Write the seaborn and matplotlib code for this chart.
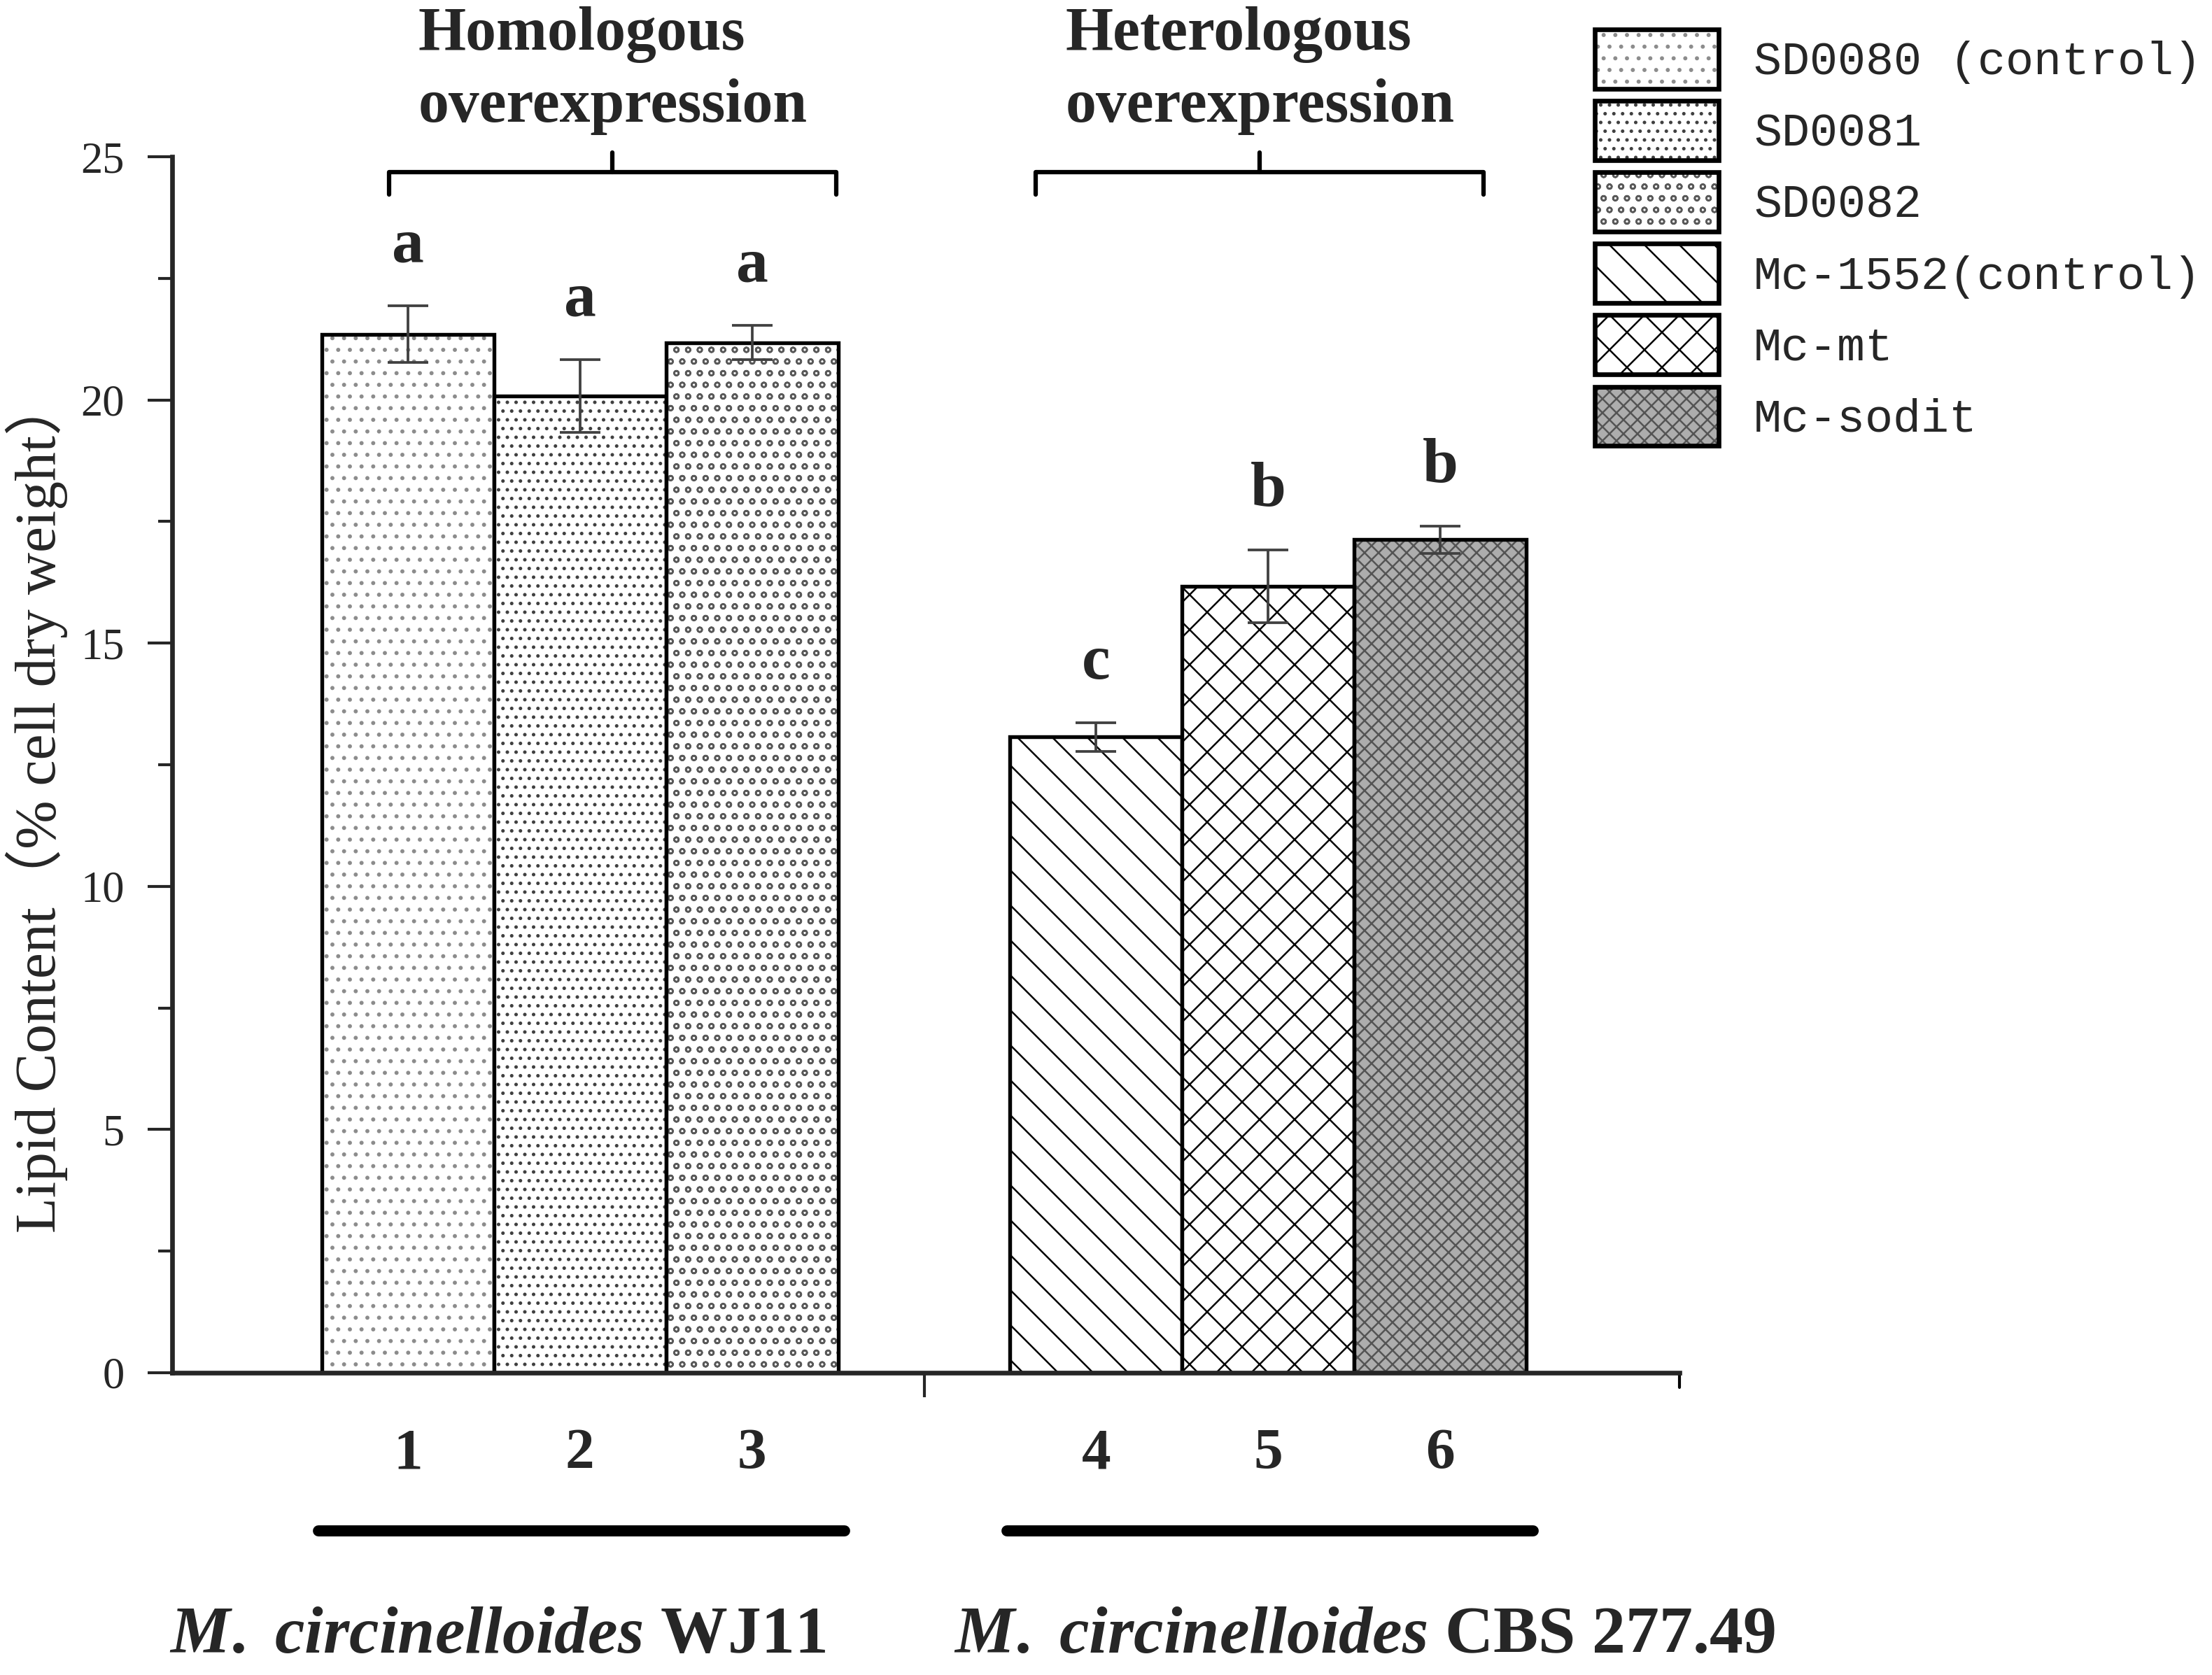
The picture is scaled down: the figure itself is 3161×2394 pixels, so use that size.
import numpy as np
import matplotlib.pyplot as plt
import matplotlib.colors as mcolors
from matplotlib.patches import Patch
from matplotlib.ticker import AutoMinorLocator
import seaborn as sns

# data
strains = ['SD0080 (control)', 'SD0081', 'SD0082',
           'Mc-1552(control)', 'Mc-mt', 'Mc-sodit']
bar_labels = ['1', '2', '3', '4', '5', '6']
positions = [1, 2, 3, 5, 6, 7]
lipid = [21.35, 20.08, 21.18, 13.07, 16.17, 17.13]
lipid_sd = [0.58, 0.75, 0.35, 0.30, 0.75, 0.28]
letters = ['a', 'a', 'a', 'c', 'b', 'b']
group_titles = ['Homologous\noverexpression', 'Heterologous\noverexpression']
group_hosts = [r'$\mathit{M.\ circinelloides}$ WJ11',
               r'$\mathit{M.\ circinelloides}$ CBS 277.49']
group_members = [[0, 1, 2], [3, 4, 5]]

# bar styles
facecolors = ['white', 'white', 'white', 'white', 'white', '0.68']
hatches = ['...', '....', 'ooo', '\\\\', 'xx', 'xxxxx']
hatchcolors = ['0.55', '0.25', '0.35', 'black', 'black', '0.33']

sns.set_style('ticks')
plt.rcParams['font.family'] = ['Liberation Serif', 'Noto Sans CJK SC']
plt.rcParams['mathtext.fontset'] = 'custom'
plt.rcParams['mathtext.it'] = 'Liberation Serif:italic:bold'
plt.rcParams['mathtext.rm'] = 'Liberation Serif:bold'
plt.rcParams['mathtext.bf'] = 'Liberation Serif:bold'
plt.rcParams['hatch.linewidth'] = 0.6


def style_patch(p, i):
    p.set_facecolor(facecolors[i])
    p.set_edgecolor('black')
    p.set_hatch(hatches[i])
    p._hatch_color = mcolors.to_rgba(hatchcolors[i])


fig = plt.figure(figsize=(10.54, 7.98), dpi=300)
ax = fig.add_axes([0.0778, 0.1805, 0.6812, 0.7259])

sns.barplot(x=positions, y=lipid, native_scale=True, width=1.0,
            color='white', edgecolor='black', linewidth=1.3,
            errorbar=None, ax=ax, zorder=2)
bars = sorted(ax.patches, key=lambda r: r.get_x())
for i, p in enumerate(bars):
    style_patch(p, i)

ax.errorbar(positions, lipid, yerr=lipid_sd, fmt='none', ecolor='0.25',
            elinewidth=0.9, capsize=7, capthick=0.9, zorder=3)

for x, m, s, t in zip(positions, lipid, lipid_sd, letters):
    ax.text(x, m + s + 0.9, t, ha='center', va='baseline',
            fontsize=22, fontweight='bold')

ax.set_ylim(0, 25)
ax.set_xlim(positions[0] - 1.37, positions[-1] + 1.39)
ax.set_yticks([0, 5, 10, 15, 20, 25])
ax.yaxis.set_minor_locator(AutoMinorLocator(2))
ax.tick_params(axis='y', which='major', length=8.4, width=1.0, labelsize=15, pad=8)
ax.tick_params(axis='y', which='minor', length=4.8, width=1.0)

mid = (positions[2] + positions[3]) / 2
ax.set_xticks([mid], [''])
ax.set_xticks(positions, bar_labels, minor=True)
ax.tick_params(axis='x', which='major', length=8.4, width=1.0)
ax.tick_params(axis='x', which='minor', length=0, pad=19, labelsize=20)
for lbl in ax.get_xticklabels(minor=True):
    lbl.set_fontweight('bold')
ax.plot([1, 1], [0, -0.012], transform=ax.transAxes, color='black',
        lw=1.0, clip_on=False)

sns.despine(ax=ax)
for side in ['left', 'bottom']:
    ax.spines[side].set_linewidth(1.6)
ax.set_xlabel('')
ax.set_ylabel('')

fig.text(0.0165, 0.5196, 'Lipid Content（% cell dry weight）', rotation=90,
         ha='center', va='center', fontsize=20)

# group brackets, titles, bars and host names
bracket_shift = [0.19, -0.05]
host_shift = [-0.48, 0.56]
for g, idx in enumerate(group_members):
    gx = [positions[i] for i in idx]
    c = np.mean(gx)
    bc = c + bracket_shift[g]
    left, right = bc - 1.3, bc + 1.3
    ax.plot([left, left, right, right], [24.23, 24.68, 24.68, 24.23],
            color='black', lw=1.5, clip_on=False)
    ax.plot([bc, bc], [24.68, 25.09], color='black', lw=1.5, clip_on=False)
    ax.text(left + 0.17, 25.45, group_titles[g], ha='left', va='bottom',
            fontsize=21, fontweight='bold', linespacing=1.35)
    ax.plot([min(gx) - 0.52, max(gx) + 0.54], [-3.25, -3.25], color='black',
            lw=3.8, solid_capstyle='round', clip_on=False)
    ax.text(c + host_shift[g], -5.42, group_hosts[g], ha='center', va='center',
            fontsize=23, fontweight='bold')

handles = []
for i, s in enumerate(strains):
    h = Patch(facecolor=facecolors[i], edgecolor='black', hatch=hatches[i],
              linewidth=1.6, label=s)
    h._hatch_color = mcolors.to_rgba(hatchcolors[i])
    handles.append(h)
fig.legend(handles=handles, loc='upper left', bbox_to_anchor=(0.7207, 0.9825),
           frameon=False, prop={'family': 'Liberation Mono', 'size': 16},
           handlelength=2.66, handleheight=1.58, labelspacing=0.26,
           handletextpad=0.75, borderpad=0, borderaxespad=0)

fig.savefig('out.png', dpi=300)
